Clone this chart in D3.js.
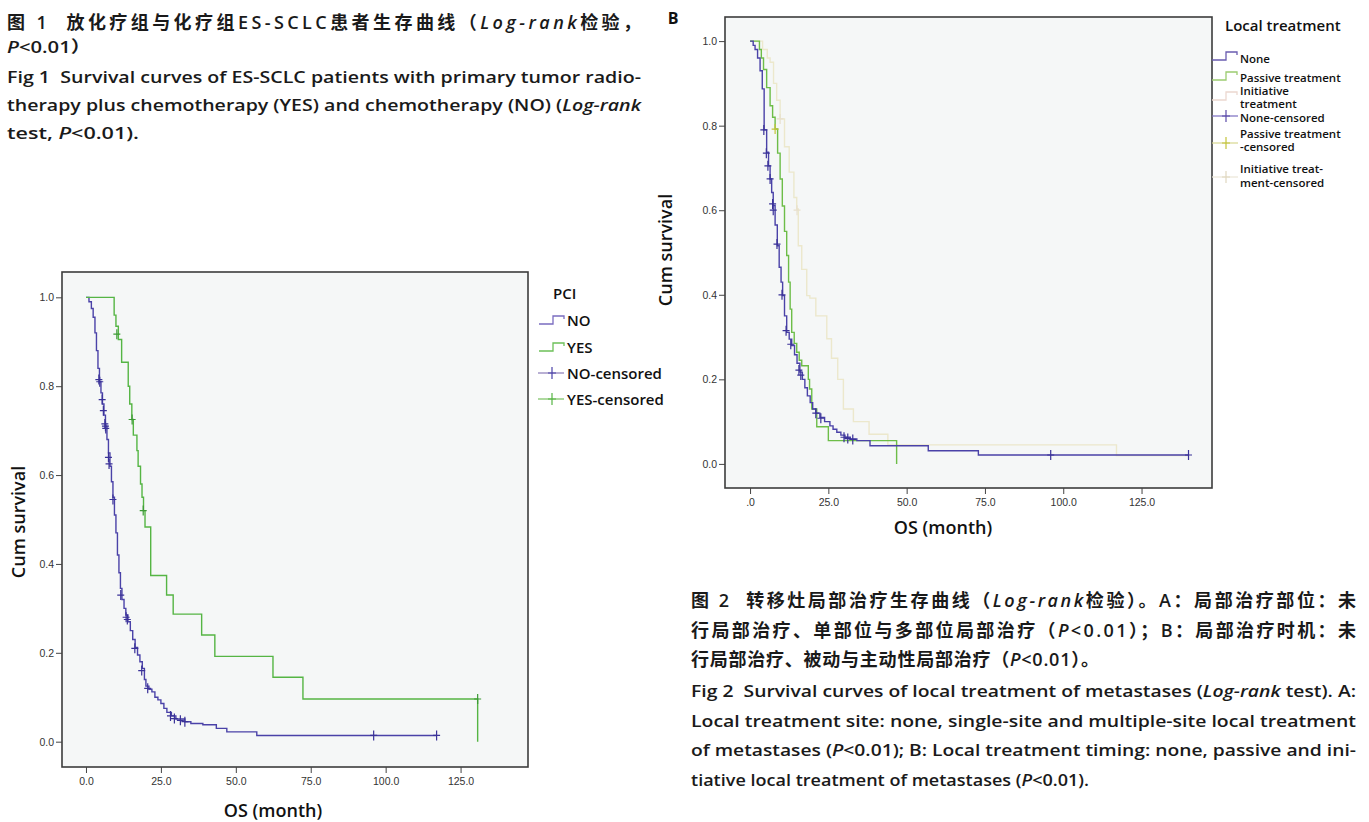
<!DOCTYPE html>
<html>
<head>
<meta charset="utf-8">
<script src="https://cdn.jsdelivr.net/npm/d3@7"></script>
<style>
  body { margin: 0; background: #fff; }
  text { font-family: "Open Sans", "Noto Sans CJK SC", sans-serif; white-space: pre; }
  .tick text { font-family: "Liberation Sans", Arial, sans-serif; font-size: 10.5px; fill: #333; }
  .tick line { stroke: #444; }
</style>
</head>
<body>
<svg id="page" width="1369" height="822"></svg>
<script>
// ---- shared axis settings ----
const xDomain = [-8, 147.5];
const yDomain = [-0.057, 1.057];
const xTicks = [0, 25, 50, 75, 100, 125];
const yTicks = [0, 0.2, 0.4, 0.6, 0.8, 1.0];
const yLabels = ["0.0", "0.2", "0.4", "0.6", "0.8", "1.0"];
const leftXLabels = ["0.0", "25.0", "50.0", "75.0", "100.0", "125.0"];
const rightXLabels = [".0", "25.0", "50.0", "75.0", "100.0", "125.0"];

// ---- Fig 1: PCI (month, cum survival) ----
const pciNoSteps = [[0,1.0],[1.0,0.99],[1.8,0.975],[2.4,0.955],[3.0,0.92],[3.5,0.88],[4.0,0.84],[4.5,0.81],
  [5.0,0.785],[5.5,0.76],[6.0,0.735],[6.5,0.71],[7.0,0.68],[7.5,0.65],[8.0,0.62],[8.5,0.585],[9.0,0.55],
  [9.5,0.51],[10.0,0.47],[10.5,0.42],[11.0,0.38],[11.5,0.345],[12.0,0.32],[12.7,0.30],[13.3,0.285],
  [14.0,0.27],[14.8,0.25],[15.6,0.23],[16.4,0.212],[17.2,0.195],[18.0,0.18],[18.8,0.165],[19.5,0.14],
  [20.0,0.125],[21.0,0.118],[22.0,0.112],[23.0,0.10],[24.0,0.094],[25.0,0.086],[26.0,0.075],[27.0,0.066],
  [28.5,0.058],[30.0,0.051],[33.0,0.045],[35.0,0.041],[39.0,0.038],[43.5,0.03],[47.0,0.022],[57.0,0.014],[117,0.014]];
const pciNoCensor = [[4.3,0.815],[4.6,0.81],[5.4,0.77],[5.8,0.745],[6.3,0.715],[6.5,0.71],[6.6,0.705],
  [7.5,0.64],[7.7,0.625],[9.0,0.545],[11.6,0.33],[13.4,0.28],[13.8,0.275],[16.3,0.21],[18.6,0.16],
  [20.6,0.12],[28.2,0.058],[29.5,0.052],[31.5,0.048],[33.0,0.045],[96,0.014],[117,0.014]];
const pciYesSteps = [[0,1.0],[9.4,0.96],[10.0,0.935],[10.8,0.905],[11.9,0.854],[14.1,0.80],[14.6,0.76],
  [15.3,0.725],[15.8,0.69],[17.0,0.655],[17.4,0.62],[18.2,0.58],[18.7,0.55],[19.2,0.52],[19.7,0.483],
  [21.6,0.374],[26.9,0.33],[29.1,0.287],[38.6,0.24],[43.0,0.192],[62.4,0.145],[72.4,0.096],[130.7,0.0]];
const pciYesCensor = [[10.3,0.917],[15.4,0.725],[19.1,0.52],[130.7,0.096]];

// ---- Fig 2B: local treatment timing ----
const noneSteps = [[0,1.0],[1.0,0.99],[1.6,0.98],[2.4,0.96],[3.2,0.93],[3.9,0.887],[4.5,0.79],[5.3,0.737],
  [5.9,0.705],[6.4,0.674],[6.9,0.642],[7.4,0.611],[8.0,0.565],[8.7,0.516],[9.3,0.465],[9.9,0.43],[10.4,0.398],
  [11.0,0.35],[11.7,0.311],[12.5,0.295],[13.3,0.28],[14.2,0.258],[15.0,0.238],[15.9,0.217],[16.7,0.20],
  [17.5,0.18],[18.3,0.161],[19.2,0.145],[20.0,0.13],[21.0,0.12],[22.3,0.11],[23.8,0.10],[25.5,0.09],
  [26.5,0.082],[27.7,0.075],[29.0,0.068],[30.3,0.063],[32.0,0.059],[34.1,0.055],[38.3,0.043],[56.9,0.031],
  [72.9,0.021],[140,0.021]];
const noneCensor = [[4.4,0.79],[5.2,0.735],[5.7,0.705],[6.4,0.674],[7.2,0.615],[7.4,0.60],[8.6,0.52],
  [10.2,0.40],[11.5,0.315],[13.0,0.283],[15.6,0.222],[16.2,0.21],[21.0,0.12],[22.6,0.108],[30.0,0.063],
  [31.2,0.06],[32.8,0.058],[96,0.021],[140,0.021]];
const passiveSteps = [[0,1.0],[3.0,0.98],[3.6,0.96],[4.3,0.933],[5.3,0.89],[6.4,0.847],[7.2,0.82],[8.0,0.792],
  [8.8,0.735],[9.6,0.674],[10.3,0.61],[11.0,0.55],[11.7,0.493],[12.3,0.43],[12.8,0.366],[13.3,0.311],
  [14.1,0.285],[14.9,0.264],[15.7,0.245],[16.5,0.232],[18.6,0.20],[19.0,0.177],[19.7,0.13],[21.3,0.088],
  [25.0,0.055],[46.8,0.0]];
const passiveCensor = [[8.0,0.792]];
const initiativeSteps = [[0,1.0],[4.0,0.98],[5.5,0.96],[6.4,0.95],[7.5,0.90],[8.5,0.86],[9.6,0.816],[11.0,0.75],
  [12.5,0.69],[14.0,0.63],[14.9,0.603],[15.4,0.516],[16.5,0.46],[18.1,0.398],[19.1,0.392],[21.0,0.35],
  [24.5,0.296],[26.0,0.25],[28.0,0.2],[29.8,0.13],[33.0,0.1],[38.0,0.07],[44.0,0.045],[117,0.02],[140,0.02]];
const initiativeCensor = [[9.6,0.816],[15.0,0.6]];

const svg = d3.select('#page');

function panel(box, series, xLabels) {
  const g = svg.append('g');
  const x = d3.scaleLinear().domain(xDomain).range([box.x0, box.x1]);
  const y = d3.scaleLinear().domain(yDomain).range([box.y1, box.y0]);
  const line = d3.line().x(d => x(d[0])).y(d => y(d[1])).curve(d3.curveStepAfter);

  g.append('rect')
    .attr('x', box.x0).attr('y', box.y0)
    .attr('width', box.x1 - box.x0).attr('height', box.y1 - box.y0)
    .attr('fill', '#f5f7f7');

  series.forEach(s => {
    g.append('path').datum(s.steps)
      .attr('d', line)
      .attr('fill', 'none')
      .attr('stroke', s.color)
      .attr('stroke-width', 1.4);
    g.selectAll(null).data(s.censor).enter().append('path')
      .attr('d', d => `M${x(d[0])},${y(d[1]) - 5}v10M${x(d[0]) - 3.5},${y(d[1])}h7`)
      .attr('stroke', s.censorColor)
      .attr('stroke-width', 1.2);
  });

  g.append('rect')
    .attr('x', box.x0).attr('y', box.y0)
    .attr('width', box.x1 - box.x0).attr('height', box.y1 - box.y0)
    .attr('fill', 'none').attr('stroke', '#3c3c3c').attr('stroke-width', 1.6);

  g.append('g')
    .attr('transform', `translate(${box.x0},0)`)
    .call(d3.axisLeft(y).tickValues(yTicks).tickFormat((d, i) => yLabels[i]).tickSize(6).tickPadding(2))
    .call(a => a.select('.domain').remove());

  g.append('g')
    .attr('transform', `translate(0,${box.y1})`)
    .call(d3.axisBottom(x).tickValues(xTicks).tickFormat((d, i) => xLabels[i]).tickSize(6).tickPadding(5))
    .call(a => a.select('.domain').remove());

  g.append('text')
    .attr('transform', `translate(${box.yTitleX},${box.yTitleY}) rotate(-90)`)
    .attr('text-anchor', 'middle').attr('dominant-baseline', 'central')
    .attr('font-size', 18).attr('font-weight', 600).attr('fill', '#111')
    .text('Cum survival');
  g.append('text')
    .attr('x', box.xTitleX).attr('y', box.xTitleY)
    .attr('text-anchor', 'middle').attr('dominant-baseline', 'central')
    .attr('font-size', 18).attr('font-weight', 600).attr('fill', '#111')
    .text('OS (month)');
}

panel({x0: 62, x1: 528, y0: 272, y1: 767, yTitleX: 18, yTitleY: 522, xTitleX: 273, xTitleY: 810}, [
  {steps: pciNoSteps, censor: pciNoCensor, color: '#4a42a8', censorColor: '#3a3298'},
  {steps: pciYesSteps, censor: pciYesCensor, color: '#55b544', censorColor: '#3c9a35'}
], leftXLabels);

panel({x0: 725, x1: 1212, y0: 17, y1: 488, yTitleX: 665, yTitleY: 250, xTitleX: 943, xTitleY: 527}, [
  {steps: initiativeSteps, censor: initiativeCensor, color: '#ece8cc', censorColor: '#e8e0cc'},
  {steps: passiveSteps, censor: passiveCensor, color: '#6dbd48', censorColor: '#c4c43a'},
  {steps: noneSteps, censor: noneCensor, color: '#4a42a8', censorColor: '#3a3298'}
], rightXLabels);

svg.append('text').attr('x', 673).attr('y', 24).attr('text-anchor', 'middle')
  .attr('font-size', 16).attr('font-weight', 700).attr('fill', '#111').text('B');

// ---- legends ----
function stepIcon(x0, yc, color) {
  svg.append('path')
    .attr('d', `M${x0},${yc + 4}h14v-8h11v3`)
    .attr('fill', 'none').attr('stroke', color).attr('stroke-width', 1.3);
}
function censorIcon(x0, yc, lineColor, markColor) {
  svg.append('path').attr('d', `M${x0},${yc}h26`).attr('stroke', lineColor).attr('stroke-width', 1.2);
  svg.append('path').attr('d', `M${x0 + 14},${yc - 6}v12M${x0 + 10},${yc}h8`).attr('stroke', markColor).attr('stroke-width', 1.2);
}

const pciLegend = ['NO', 'YES', 'NO-censored', 'YES-censored'];
const pciLegendY = [320, 347, 373, 399];
svg.append('text').attr('x', 553).attr('y', 293).attr('dominant-baseline', 'central')
  .attr('font-size', 15).attr('font-weight', 600).attr('fill', '#111').text('PCI');
pciLegend.forEach((t, i) => {
  svg.append('text').attr('x', 567).attr('y', pciLegendY[i]).attr('dominant-baseline', 'central')
    .attr('font-size', 15).attr('font-weight', 600).attr('fill', '#111').text(t);
});
stepIcon(539, pciLegendY[0], '#7a6cc0');
stepIcon(539, pciLegendY[1], '#6cc058');
censorIcon(538, pciLegendY[2], '#8a7cb8', '#4a42a8');
censorIcon(538, pciLegendY[3], '#78c060', '#55b544');

const localLegend = ['None', 'Passive treatment', 'Initiative', 'treatment', 'None-censored',
  'Passive treatment', '-censored', 'Initiative treat-', 'ment-censored'];
const localLegendY = [58, 77, 90, 103, 117, 133, 146, 168, 182];
svg.append('text').attr('x', 1225).attr('y', 25).attr('dominant-baseline', 'central')
  .attr('font-size', 15).attr('font-weight', 600).attr('fill', '#111').text('Local treatment');
localLegend.forEach((t, i) => {
  svg.append('text').attr('x', 1240).attr('y', localLegendY[i]).attr('dominant-baseline', 'central')
    .attr('font-size', 11.5).attr('font-weight', 600).attr('fill', '#111').text(t);
});
stepIcon(1212, 56, '#6a5cb0');
stepIcon(1212, 76, '#9ccc70');
stepIcon(1212, 96, '#ecd8d0');
censorIcon(1212, 116, '#7a6cc0', '#5a4aa8');
censorIcon(1212, 143, '#d8d890', '#c4c43a');
censorIcon(1212, 177, '#ece6d8', '#e0d8c0');

// ---- captions ----
function caption(x, y, parts, width, size, adjust) {
  const t = svg.append('text').attr('x', x).attr('y', y)
    .attr('font-size', size).attr('font-weight', 600).attr('fill', '#1a1a1a');
  parts.forEach(p => {
    t.append('tspan').attr('font-style', p[1] ? 'italic' : 'normal').text(p[0]);
  });
  t.attr('textLength', width).attr('lengthAdjust', adjust);
}

const zh = 18, en = 16.5;
const sp = 'spacing', sg = 'spacingAndGlyphs';
caption(7, 29, [['图 1  放化疗组与化疗组ES-SCLC患者生存曲线（'], ['Log-rank', 1], ['检验，']], 634, zh, sp);
caption(7, 53, [['P', 1], ['<0.01）']], 84, en, sg);
caption(7, 83, [['Fig 1  Survival curves of ES-SCLC patients with primary tumor radio-']], 634, en, sg);
caption(7, 111, [['therapy plus chemotherapy (YES) and chemotherapy (NO) ('], ['Log-rank', 1]], 634, en, sg);
caption(7, 139, [['test, '], ['P', 1], ['<0.01).']], 132, en, sg);

caption(691, 607, [['图 2  转移灶局部治疗生存曲线（'], ['Log-rank', 1], ['检验）。A：局部治疗部位：未']], 665, zh, sp);
caption(691, 637, [['行局部治疗、单部位与多部位局部治疗（'], ['P', 1], ['<0.01）；B：局部治疗时机：未']], 665, zh, sp);
caption(691, 666, [['行局部治疗、被动与主动性局部治疗（'], ['P', 1], ['<0.01）。']], 408, zh, sp);
caption(691, 697, [['Fig 2  Survival curves of local treatment of metastases ('], ['Log-rank', 1], [' test). A:']], 665, en, sg);
caption(691, 727, [['Local treatment site: none, single-site and multiple-site local treatment']], 665, en, sg);
caption(691, 756, [['of metastases ('], ['P', 1], ['<0.01); B: Local treatment timing: none, passive and ini-']], 665, en, sg);
caption(691, 786, [['tiative local treatment of metastases ('], ['P', 1], ['<0.01).']], 398, en, sg);
</script>
</body>
</html>
